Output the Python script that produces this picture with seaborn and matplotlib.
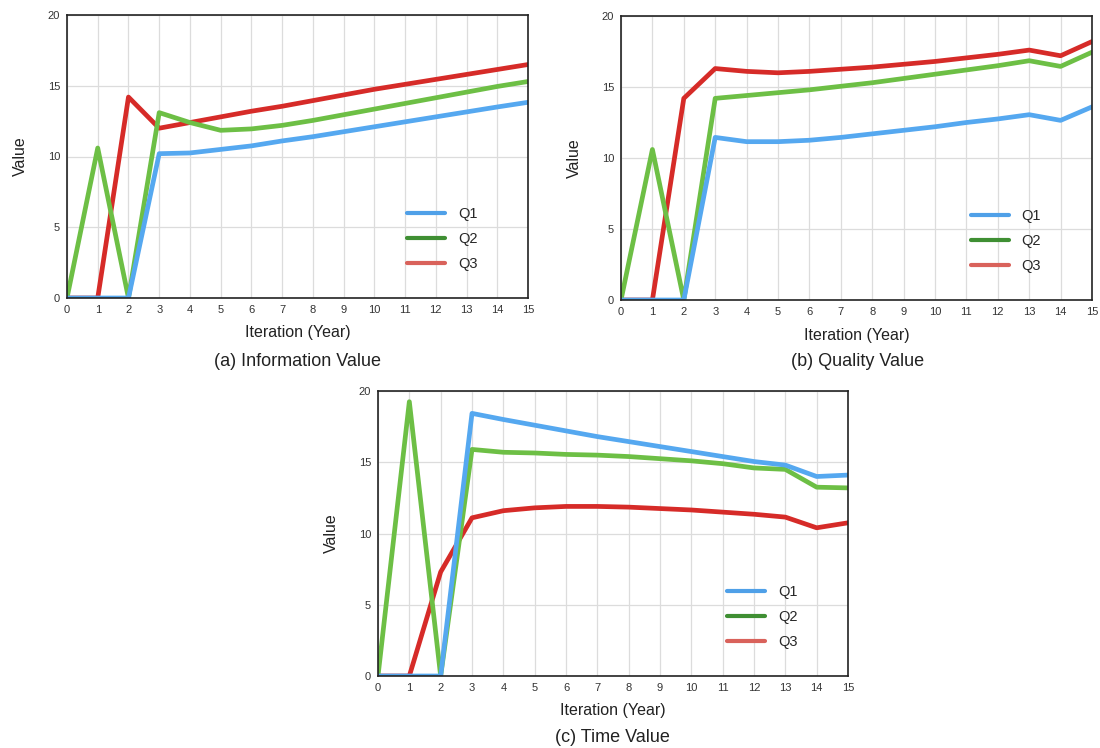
import numpy as np
import pandas as pd
import matplotlib
matplotlib.use("Agg")
import matplotlib.pyplot as plt
from matplotlib.lines import Line2D
import seaborn as sns

years = list(range(16))
series_names = ["Q1", "Q2", "Q3"]

info_q1 = [0, 0, 0, 10.2, 10.25, 10.5, 10.75, 11.1, 11.4, 11.75, 12.1, 12.45, 12.8, 13.15, 13.5, 13.83]
info_q2 = [0, 10.6, 0, 13.1, 12.4, 11.85, 11.95, 12.2, 12.55, 12.95, 13.35, 13.75, 14.15, 14.55, 14.95, 15.3]
info_q3 = [0, 0, 14.2, 12.0, 12.4, 12.8, 13.2, 13.55, 13.95, 14.35, 14.75, 15.1, 15.45, 15.8, 16.15, 16.5]

qual_q1 = [0, 0, 0, 11.45, 11.15, 11.15, 11.25, 11.45, 11.7, 11.95, 12.2, 12.5, 12.75, 13.05, 12.65, 13.6]
qual_q2 = [0, 10.6, 0, 14.2, 14.4, 14.6, 14.8, 15.05, 15.3, 15.6, 15.9, 16.2, 16.5, 16.85, 16.45, 17.45]
qual_q3 = [0, 0, 14.2, 16.3, 16.1, 16.0, 16.1, 16.25, 16.4, 16.6, 16.8, 17.05, 17.3, 17.6, 17.2, 18.2]

time_q1 = [0, 0, 0, 18.43, 18.0, 17.6, 17.2, 16.8, 16.45, 16.1, 15.75, 15.4, 15.05, 14.8, 14.0, 14.1]
time_q2 = [0, 19.25, 0, 15.9, 15.7, 15.65, 15.55, 15.5, 15.4, 15.25, 15.1, 14.9, 14.6, 14.5, 13.25, 13.2]
time_q3 = [0, 0, 7.3, 11.1, 11.6, 11.8, 11.9, 11.9, 11.85, 11.75, 11.65, 11.5, 11.35, 11.15, 10.4, 10.75]

captions = ["(a) Information Value", "(b) Quality Value", "(c) Time Value"]
x_ticks = list(range(16))
y_ticks = [0, 5, 10, 15, 20]

line_colors = ["#55A8F0", "#6DBF45", "#D62B28"]
legend_colors = ["#4FA0E8", "#3F8F33", "#D9625B"]

sns.set_style("whitegrid")
plt.rcParams["font.family"] = ["Liberation Sans", "DejaVu Sans"]

fig = plt.figure(figsize=(11, 7.48), dpi=100)

panels = [
    ([info_q1, info_q2, info_q3], [67 / 1100, 1 - 298 / 748, 461 / 1100, 283 / 748], (298 / 1100, 1 - 362 / 748)),
    ([qual_q1, qual_q2, qual_q3], [621 / 1100, 1 - 300 / 748, 471 / 1100, 284 / 748], (858 / 1100, 1 - 362 / 748)),
    ([time_q1, time_q2, time_q3], [378 / 1100, 1 - 676 / 748, 470 / 1100, 285 / 748], (612 / 1100, 1 - 738 / 748)),
]

for (vals, rect, cap_pos), cap in zip(panels, captions):
    ax = fig.add_axes(rect)
    df = pd.DataFrame({
        "Iteration": years * 3,
        "Value": vals[0] + vals[1] + vals[2],
        "Series": sum([[n] * 16 for n in series_names], []),
    })
    sns.lineplot(data=df, x="Iteration", y="Value", hue="Series",
                 hue_order=series_names[::-1],
                 palette=dict(zip(series_names, line_colors)),
                 linewidth=3.4, ax=ax, legend=False)
    ax.set_xlim(0, 15)
    ax.set_ylim(0, 20)
    ax.set_xticks(x_ticks)
    ax.set_yticks(y_ticks)
    ax.grid(True, color="#dcdcdc", linewidth=0.9)
    for s in ax.spines.values():
        s.set_color("#222222")
        s.set_linewidth(1.2)
    ax.tick_params(axis="both", labelsize=8, colors="#333333", length=0, pad=5)
    ax.set_xlabel("Iteration (Year)", fontsize=11.5, color="#222222")
    ax.set_ylabel("Value", fontsize=11.5, color="#222222")
    w_px = rect[2] * 1100
    h_px = rect[3] * 748
    ax.xaxis.set_label_coords(0.5, -35 / h_px)
    ax.xaxis.label.set_va("center")
    ax.yaxis.set_label_coords(-47 / w_px, 0.5)
    ax.yaxis.label.set_va("center")
    handles = [Line2D([0], [0], color=c, lw=3.0) for c in legend_colors]
    ax.legend(handles, series_names, loc="lower right", bbox_to_anchor=(0.92, 0.05),
              frameon=False, fontsize=10.5, handlelength=2.6, handletextpad=0.9,
              labelspacing=0.75)
    fig.text(cap_pos[0], cap_pos[1], cap, ha="center", va="center", fontsize=13, color="#222222")

fig.savefig("out.png", dpi=100, facecolor="white")
